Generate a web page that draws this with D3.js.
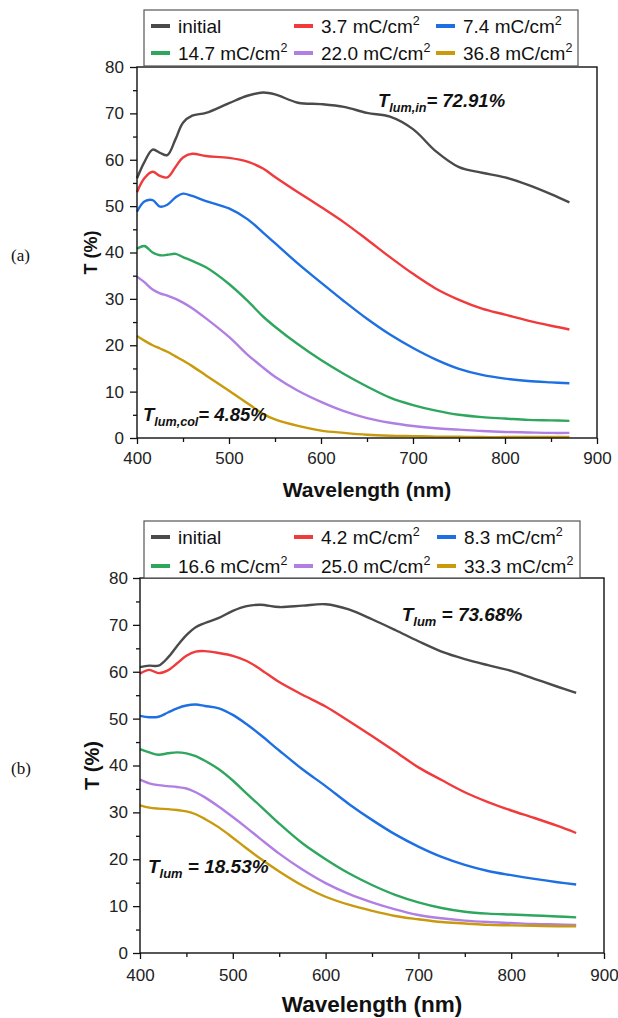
<!DOCTYPE html>
<html>
<head>
<meta charset="utf-8">
<script src="https://cdn.jsdelivr.net/npm/d3@7"></script>
<style>
body { margin: 0; background: #fff; }
svg { display: block; font-family: 'Liberation Sans', Arial, sans-serif; }
</style>
</head>
<body>
<svg id="chart" width="618" height="1018"></svg>
<script>
// ---- data ----
var xTicks = [400, 500, 600, 700, 800, 900];
var xMinor = [450, 550, 650, 750, 850];
var yTicks = [0, 10, 20, 30, 40, 50, 60, 70, 80];
var yMinor = [5, 15, 25, 35, 45, 55, 65, 75];

var colors = ['#4a4a4a', '#f03a3c', '#1d6fe2', '#2fa65e', '#b07fe4', '#c89a0c'];

// panel (a)
var chargesA = ['initial', '3.7', '7.4', '14.7', '22.0', '36.8'];
var waveA = [400, 408, 417, 425, 433, 442, 450, 460, 475, 500, 520, 537, 550, 575, 600, 625, 650, 675, 700, 725, 750, 775, 800, 825, 850, 870];
var initialA = [56.0, 59.5, 62.2, 61.5, 61.0, 64.5, 68.0, 69.5, 70.1, 72.2, 73.8, 74.5, 74.1, 72.3, 72.0, 71.4, 70.1, 69.3, 66.6, 61.8, 58.4, 57.2, 56.2, 54.6, 52.6, 50.8];
var q37 = [53.0, 56.0, 57.4, 56.5, 56.2, 58.5, 60.5, 61.3, 60.8, 60.4, 59.6, 58.1, 56.3, 53.0, 49.8, 46.5, 42.8, 39.0, 35.4, 32.2, 29.8, 27.9, 26.6, 25.3, 24.2, 23.4];
var q74 = [48.8, 51.0, 51.3, 49.9, 50.3, 51.9, 52.7, 52.2, 51.1, 49.5, 47.2, 44.3, 42.0, 37.6, 33.5, 29.5, 25.7, 22.3, 19.4, 16.9, 14.9, 13.6, 12.8, 12.3, 12.0, 11.8];
var q147 = [40.8, 41.4, 40.0, 39.4, 39.5, 39.7, 39.0, 38.2, 36.8, 33.2, 29.6, 26.2, 24.0, 20.2, 16.8, 13.8, 11.1, 8.7, 7.1, 5.9, 5.0, 4.5, 4.2, 3.9, 3.8, 3.7];
var q220 = [34.8, 33.6, 32.0, 31.2, 30.7, 30.0, 29.2, 28.0, 25.8, 21.8, 18.0, 15.2, 13.2, 10.2, 7.8, 5.8, 4.3, 3.3, 2.6, 2.1, 1.8, 1.5, 1.3, 1.2, 1.1, 1.1];
var q368 = [22.0, 21.0, 20.0, 19.3, 18.6, 17.6, 16.7, 15.5, 13.5, 10.2, 7.5, 5.2, 4.0, 2.6, 1.6, 1.1, 0.7, 0.5, 0.4, 0.3, 0.3, 0.2, 0.2, 0.2, 0.2, 0.2];

// panel (b)
var chargesB = ['initial', '4.2', '8.3', '16.6', '25.0', '33.3'];
var waveB = [400, 410, 420, 430, 440, 450, 460, 470, 485, 500, 515, 530, 550, 575, 600, 625, 650, 675, 700, 725, 750, 775, 800, 825, 850, 870];
var initialB = [61.0, 61.3, 61.3, 63.0, 65.5, 67.8, 69.5, 70.4, 71.5, 73.0, 74.0, 74.3, 73.8, 74.1, 74.4, 73.3, 71.2, 68.9, 66.5, 64.3, 62.7, 61.4, 60.2, 58.5, 56.8, 55.5];
var q42 = [59.6, 60.4, 59.7, 60.3, 61.8, 63.4, 64.3, 64.4, 64.0, 63.4, 62.3, 60.5, 57.8, 55.1, 52.6, 49.5, 46.3, 43.0, 39.6, 36.9, 34.3, 32.2, 30.4, 28.8, 27.1, 25.6];
var q83 = [50.6, 50.3, 50.4, 51.3, 52.2, 52.8, 53.0, 52.7, 52.2, 50.8, 48.8, 46.5, 43.2, 39.2, 35.6, 31.8, 28.4, 25.3, 22.7, 20.5, 18.8, 17.5, 16.6, 15.8, 15.1, 14.6];
var q166 = [43.5, 42.8, 42.3, 42.6, 42.8, 42.6, 42.0, 41.0, 39.2, 36.8, 34.0, 31.3, 27.6, 23.4, 20.0, 17.0, 14.5, 12.4, 10.8, 9.6, 8.8, 8.4, 8.2, 8.0, 7.8, 7.6];
var q250 = [37.0, 36.2, 35.8, 35.6, 35.4, 35.1, 34.3, 33.2, 31.2, 29.0, 26.7, 24.3, 21.2, 17.8, 14.9, 12.6, 10.8, 9.3, 8.1, 7.4, 6.9, 6.6, 6.4, 6.2, 6.1, 6.0];
var q333 = [31.5, 31.0, 30.8, 30.7, 30.5, 30.2, 29.6, 28.6, 26.8, 24.6, 22.3, 20.1, 17.4, 14.4, 12.0, 10.3, 9.0, 7.9, 7.2, 6.6, 6.3, 6.0, 5.9, 5.8, 5.7, 5.7];

var svg = d3.select('#chart');

function panel(opt) {
    var x = d3.scaleLinear().domain([400, 900]).range([opt.left, opt.right]);
    var y = d3.scaleLinear().domain([0, 80]).range([opt.bottom, opt.top]);
    var g = svg.append('g');

    var line = d3.line()
        .x(function (d) { return x(d[0]); })
        .y(function (d) { return y(d[1]); })
        .curve(d3.curveCatmullRom.alpha(0.5));

    opt.series.forEach(function (s, i) {
        g.append('path')
            .datum(d3.zip(opt.wave, s))
            .attr('fill', 'none')
            .attr('stroke', colors[i])
            .attr('stroke-width', 2.4)
            .attr('stroke-linejoin', 'round')
            .attr('d', line);
    });

    // minor ticks first, major on top
    g.append('g').attr('transform', 'translate(0,' + opt.bottom + ')')
        .call(d3.axisBottom(x).tickValues(xMinor).tickSize(4).tickFormat(''));
    g.append('g').attr('transform', 'translate(' + opt.left + ',0)')
        .call(d3.axisLeft(y).tickValues(yMinor).tickSize(4).tickFormat(''));

    var xa = g.append('g').attr('transform', 'translate(0,' + opt.bottom + ')')
        .call(d3.axisBottom(x).tickValues(xTicks).tickSize(6).tickPadding(opt.xPad));
    var ya = g.append('g').attr('transform', 'translate(' + opt.left + ',0)')
        .call(d3.axisLeft(y).tickValues(yTicks).tickSize(7).tickPadding(opt.yPad));

    g.selectAll('.domain').remove();
    g.selectAll('.tick line').attr('stroke', '#111').attr('stroke-width', 1.3);
    [xa, ya].forEach(function (a) {
        a.selectAll('text')
            .attr('font-family', "'Liberation Sans', Arial, sans-serif")
            .attr('font-size', 17)
            .attr('fill', '#222');
    });

    g.append('rect')
        .attr('x', opt.left).attr('y', opt.top)
        .attr('width', opt.right - opt.left).attr('height', opt.bottom - opt.top)
        .attr('fill', 'none').attr('stroke', '#111').attr('stroke-width', 1.4);

    // axis titles
    g.append('text')
        .attr('x', (opt.left + opt.right) / 2).attr('y', opt.xTitleY)
        .attr('text-anchor', 'middle').attr('font-weight', 'bold')
        .attr('font-size', opt.xTitleSize).attr('fill', '#111')
        .text('Wavelength (nm)');
    g.append('text')
        .attr('transform', 'translate(' + opt.yTitleX + ',' + (opt.top + opt.bottom) / 2 + ') rotate(-90)')
        .attr('text-anchor', 'middle').attr('font-weight', 'bold')
        .attr('font-size', opt.yTitleSize).attr('fill', '#111')
        .text('T (%)');

    // legend
    var lg = g.append('g');
    lg.append('rect')
        .attr('x', opt.legend.x).attr('y', opt.legend.y)
        .attr('width', opt.legend.w).attr('height', opt.legend.h)
        .attr('fill', '#fff').attr('stroke', '#555').attr('stroke-width', 1.2);
    opt.charges.forEach(function (c, i) {
        var cx = opt.legend.cols[i % 3];
        var by = opt.legend.rows[Math.floor(i / 3)];
        lg.append('line')
            .attr('x1', cx).attr('x2', cx + 19)
            .attr('y1', by - 7).attr('y2', by - 7)
            .attr('stroke', colors[i]).attr('stroke-width', 4);
        var t = lg.append('text')
            .attr('x', cx + 27).attr('y', by)
            .attr('font-size', 19).attr('fill', '#111');
        if (c === 'initial') {
            t.text(c);
        } else {
            t.append('tspan').text(c + ' mC/cm');
            t.append('tspan').attr('dy', -8).attr('font-size', 12.5).text('2');
        }
    });

    // T_lum annotations
    opt.notes.forEach(function (n) {
        var t = g.append('text')
            .attr('x', x(n.wl)).attr('y', y(n.t))
            .attr('font-weight', 'bold').attr('font-style', 'italic')
            .attr('font-size', n.size).attr('fill', '#111');
        t.append('tspan').text('T');
        t.append('tspan').attr('dy', 5).attr('font-size', n.size * 0.68).text(n.sub);
        t.append('tspan').attr('dy', -5).text(n.rest);
    });

    svg.append('text')
        .attr('x', 11).attr('y', (opt.top + opt.bottom) / 2 + 8)
        .attr('font-family', "'Liberation Serif', 'Times New Roman', serif")
        .attr('font-size', 17).attr('fill', '#111')
        .text(opt.tag);
}

panel({
    tag: '(a)',
    left: 137, right: 597, top: 67, bottom: 438,
    xPad: 8, yPad: 6,
    xTitleY: 497, xTitleSize: 21, yTitleX: 97, yTitleSize: 18,
    wave: waveA,
    series: [initialA, q37, q74, q147, q220, q368],
    charges: chargesA,
    legend: { x: 144, y: 10, w: 434, h: 56, cols: [151, 294, 436], rows: [33, 60] },
    notes: [
        { wl: 662, t: 71.4, size: 18.5, sub: 'lum,in', rest: '= 72.91%' },
        { wl: 406.5, t: 3.7, size: 18.5, sub: 'lum,col', rest: '= 4.85%' }
    ]
});

panel({
    tag: '(b)',
    left: 140, right: 604, top: 578, bottom: 953,
    xPad: 10, yPad: 5,
    xTitleY: 1012, xTitleSize: 22.5, yTitleX: 99, yTitleSize: 20,
    wave: waveB,
    series: [initialB, q42, q83, q166, q250, q333],
    charges: chargesB,
    legend: { x: 144, y: 521, w: 436, h: 57, cols: [151, 294, 437], rows: [544, 573] },
    notes: [
        { wl: 682, t: 70.9, size: 19, sub: 'lum', rest: ' = 73.68%' },
        { wl: 408.6, t: 17, size: 19, sub: 'lum', rest: ' = 18.53%' }
    ]
});
</script>
</body>
</html>
